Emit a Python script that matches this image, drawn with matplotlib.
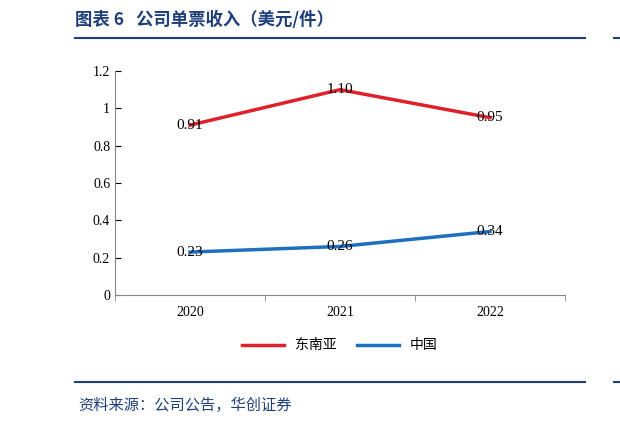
import matplotlib
matplotlib.use("Agg")
import matplotlib.pyplot as plt
from matplotlib.lines import Line2D

years = ["2020", "2021", "2022"]
sea = [0.91, 1.10, 0.95]
china = [0.23, 0.26, 0.34]
yticks = [0, 0.2, 0.4, 0.6, 0.8, 1, 1.2]
ytick_labels = ["0", "0.2", "0.4", "0.6", "0.8", "1", "1.2"]

W, H = 620, 423
fig = plt.figure(figsize=(W/100, H/100), dpi=100)
cjk = "Noto Sans CJK SC"
serif = "Liberation Serif"
navy = "#1F3F7A"

fig.text(75/W, 1-20/H, "图表 6   公司单票收入（美元/件）", fontfamily=cjk, fontsize=12.5,
         fontweight="bold", color=navy, va="center")
fig.add_artist(Line2D([75/W, 585/W], [1-38/H, 1-38/H], color=navy, lw=1.5))
fig.add_artist(Line2D([75/W, 585/W], [1-382/H, 1-382/H], color=navy, lw=1.5))
fig.add_artist(Line2D([614/W, 620/W], [1-38/H, 1-38/H], color=navy, lw=1.5))
fig.add_artist(Line2D([614/W, 620/W], [1-382/H, 1-382/H], color=navy, lw=1.5))
fig.text(78/W, 1-405/H, "资料来源：公司公告，华创证券", fontfamily=cjk, fontsize=11,
         style="italic", color=navy, va="center")

ax = fig.add_axes([115/W, 1-295/H, 450/W, 224/H])
x = range(len(years))
red, blue = "#E0202A", "#1F6FBF"
ax.plot(x, sea, color=red, lw=2.5, label="东南亚")
ax.plot(x, china, color=blue, lw=2.5, label="中国")
for i in x:
    ax.text(i, sea[i], f"{sea[i]:.2f}", fontfamily=serif, fontsize=11, ha="center", va="center")
    ax.text(i, china[i], f"{china[i]:.2f}", fontfamily=serif, fontsize=11, ha="center", va="center")
ax.set_xlim(-0.5, 2.5)
ax.set_ylim(0, 1.2)
ax.set_yticks(yticks)
ax.set_yticklabels(ytick_labels, fontfamily=serif, fontsize=10)
ax.set_xticks(list(x))
ax.set_xticklabels(years, fontfamily=serif, fontsize=10)
ax.tick_params(axis="x", length=0, pad=8)
ax.tick_params(axis="y", direction="in", length=4, left=True)
for s in ["top", "right"]:
    ax.spines[s].set_visible(False)
ax.spines["bottom"].set_color("#888888")
ax.spines["left"].set_color("#888888")
ax.set_xticks([-0.5, 0.5, 1.5, 2.5], minor=True)
ax.tick_params(axis="x", which="minor", direction="out", length=4, color="#888888")
ax.legend(loc="center", bbox_to_anchor=(0.5, -0.225), ncol=2, frameon=False,
          prop={"family": cjk, "size": 10}, handlelength=3, columnspacing=1.5)
fig.savefig("out.png", dpi=100)
